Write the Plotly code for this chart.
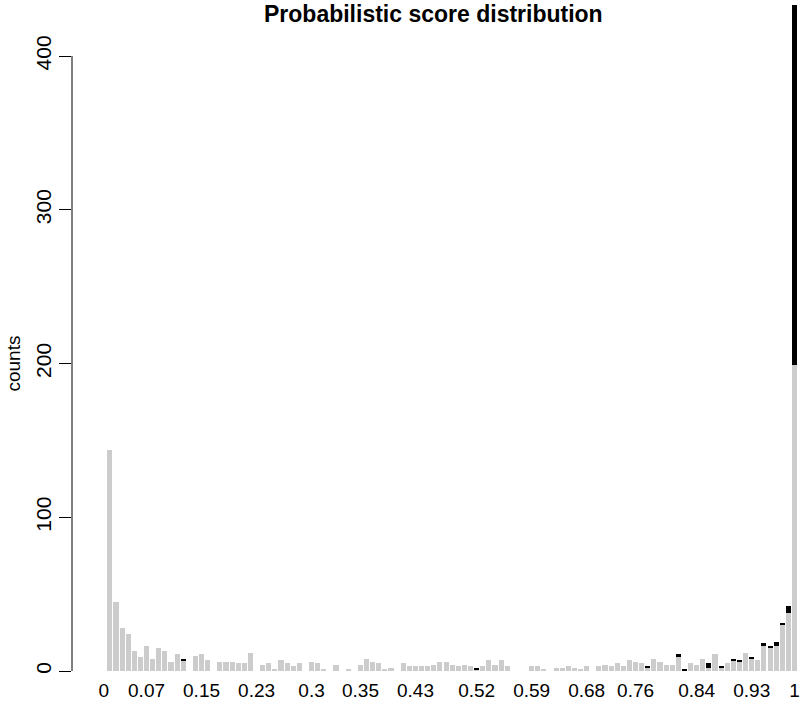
import plotly.graph_objects as go

# counts per score bin (bin 0 is empty); lower part in gray, upper part in black
gray_counts = [0, 144, 45, 28, 24, 13, 9, 16, 8, 15, 13, 6, 11, 7, 0, 10, 11, 7, 0, 6,
               6, 6, 5, 5, 12, 0, 4, 5, 1, 7, 5, 3, 5, 0, 6, 5, 1, 0, 4, 0,
               1, 0, 4, 8, 6, 5, 1, 2, 0, 5, 3, 3, 3, 3, 4, 6, 6, 4, 3, 4,
               3, 1, 3, 7, 4, 7, 3, 0, 0, 0, 3, 3, 1, 0, 2, 2, 3, 2, 1, 3,
               0, 3, 4, 3, 5, 3, 7, 6, 5, 2, 8, 6, 4, 4, 9, 0, 5, 4, 8, 2,
               11, 2, 5, 7, 6, 12, 8, 7, 16, 15, 16, 30, 38, 199]
black_counts = [0] * 114
for i, v in {13: 1, 61: 1, 89: 1, 94: 2, 95: 1, 99: 3, 101: 1, 103: 1, 104: 1,
             106: 1, 108: 2, 109: 1, 110: 3, 111: 1, 112: 4, 113: 235}.items():
    black_counts[i] = v

bins = list(range(len(gray_counts)))

# bins that carry a visible axis label
label_bins = [0, 7, 16, 25, 34, 42, 51, 61, 70, 79, 87, 97, 106, 113]
label_text = ['0', '0.07', '0.15', '0.23', '0.3', '0.35', '0.43', '0.52', '0.59',
              '0.68', '0.76', '0.84', '0.93', '1']

y_ticks = [0, 100, 200, 300, 400]

font = 'Liberation Sans, Arial, Helvetica, sans-serif'

fig = go.Figure()
fig.add_trace(go.Bar(x=bins, y=gray_counts, marker=dict(color='#CCCCCC', line_width=0)))
fig.add_trace(go.Bar(x=bins, y=black_counts, marker=dict(color='#000000', line_width=0)))

fig.update_layout(
    barmode='stack',
    bargap=0.167,
    width=800, height=706,
    margin=dict(l=72, r=0, t=5, b=35),
    plot_bgcolor='white', paper_bgcolor='white',
    showlegend=False,
    font=dict(family=font, color='black', size=19),
)

fig.update_xaxes(range=[-5.19, 113.9], tickmode='array', tickvals=label_bins,
                 ticktext=label_text, showline=False, showgrid=False, zeroline=False,
                 ticks='', ticklabelstandoff=6, tickfont=dict(size=19))
fig.update_yaxes(range=[0, 433.2], tickmode='array', tickvals=y_ticks,
                 showline=False, showgrid=False, zeroline=False,
                 ticks='outside', ticklen=12, tickcolor='black', tickwidth=1,
                 tickangle=-90, tickfont=dict(size=21))

# R-style y axis line running only from 0 to 400
fig.add_shape(type='line', xref='paper', x0=0, x1=0, yref='y', y0=0, y1=400,
              line=dict(color='black', width=1))

fig.add_annotation(text='counts', xref='paper', x=-0.081, yref='y', y=200,
                   textangle=-90, showarrow=False, font=dict(size=19),
                   xanchor='center', yanchor='middle')
fig.add_annotation(text='<b>Probabilistic score distribution</b>', xref='paper', x=0.496,
                   yref='paper', y=0.9865, showarrow=False, font=dict(size=23),
                   xanchor='center', yanchor='middle')

# drop the browser's default page margin so the 800x706 figure fills the window
fig.write_html("out.html", config={'displayModeBar': False},
               post_script="document.body.style.margin='0';")
